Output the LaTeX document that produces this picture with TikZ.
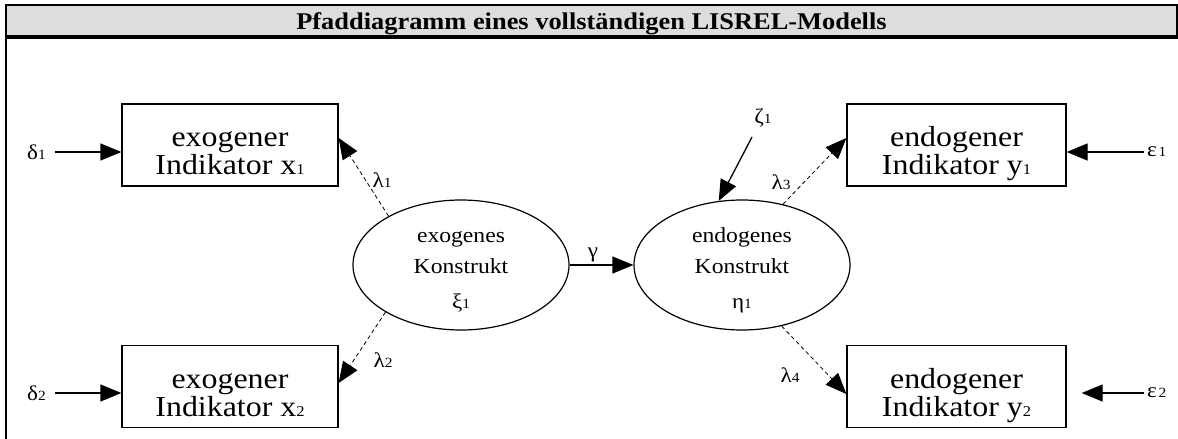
\documentclass[tikz,border=0pt]{standalone}
\usepackage{fontspec}
\setmainfont{Liberation Serif}[FakeStretch=1.1]
\usetikzlibrary{arrows.meta,shapes.geometric}
\definecolor{barfill}{HTML}{DDDDDD}
\newcommand\boxfont{\fontsize{29}{29}\selectfont}
\newcommand\boxsub{\fontsize{15}{15}\selectfont}
\newcommand\elfont{\fontsize{21.5}{21.5}\selectfont}
\newcommand\labfont{\fontsize{21}{21}\selectfont}
\newcommand\labsub{\fontsize{14}{14}\selectfont}
\newcommand\sym[2]{{\labfont #1}{\labsub #2}}
\begin{document}
\begin{tikzpicture}[x=1pt,y=-1pt,
  indbox/.style={draw, line width=1.3pt, minimum width=216pt, minimum height=82pt, inner sep=0pt},
  construct/.style={ellipse, draw, line width=1.2pt, minimum width=216pt, minimum height=130pt, inner sep=0pt},
  boxtxt/.style={anchor=base, inner sep=0pt, font=\boxfont},
  eltxt/.style={anchor=base, inner sep=0pt, font=\elfont},
  lab/.style={inner sep=0pt},
  tip/.style={-{Triangle[length=21pt,width=17pt]}},
  solidarr/.style={tip, line width=1.3pt},
  loadarr/.style={tip, line width=0.8pt, dash pattern=on 4pt off 3pt}]
\useasboundingbox (0,0) rectangle (1178,439);

% heading bar and frame
\filldraw[fill=barfill, line width=2pt] (6,5) rectangle (1177,37);
\draw[line width=3.5pt] (5,37) -- (1178,37);
\draw[line width=2pt] (6,37) -- (6,439);
\node[anchor=base, inner sep=0pt, font=\bfseries\fontsize{24}{24}\selectfont] (title) at (591.5,29)
  {Pfaddiagramm eines vollständigen LISREL-Modells};

% indicator boxes
\node[indbox] (x1) at (230,145) {};
\node[indbox] (x2) at (230,386.5) {};
\node[indbox, minimum width=219pt] (y1) at (956.5,145) {};
\node[indbox, minimum width=219pt] (y2) at (956.5,386.5) {};

\node[boxtxt] (x1a) at (230,146.5) {exogener};
\node[boxtxt] (x1b) at (230,174.5) {Indikator x{\boxsub 1}};
\node[boxtxt] (x2a) at (230,388) {exogener};
\node[boxtxt] (x2b) at (230,416) {Indikator x{\boxsub 2}};
\node[boxtxt] (y1a) at (956.5,146.5) {endogener};
\node[boxtxt] (y1b) at (956.5,174.5) {Indikator y{\boxsub 1}};
\node[boxtxt] (y2a) at (956.5,388) {endogener};
\node[boxtxt] (y2b) at (956.5,416) {Indikator y{\boxsub 2}};

% latent constructs
\node[construct] (xi) at (461,265) {};
\node[construct] (eta) at (742,265) {};
\node[eltxt] (xia) at (461,242) {exogenes};
\node[eltxt] (xib) at (461,273) {Konstrukt};
\node[eltxt] (xic) at (461,308) {\sym{ξ}{1}};
\node[eltxt] (etaa) at (742,242) {endogenes};
\node[eltxt] (etab) at (742,273) {Konstrukt};
\node[eltxt] (etac) at (742,308) {\sym{η}{1}};

% error terms and path labels
\node[lab, anchor=west] (d1) at (27,152) {\sym{δ}{1}};
\node[lab, anchor=west] (d2) at (27,393) {\sym{δ}{2}};
\node[lab, anchor=west] (e1) at (1147,152) {{\labfont ε}\,{\labsub 1}};
\node[lab, anchor=west] (e2) at (1147,393) {{\labfont ε}\,{\labsub 2}};
\node[lab] (z1) at (763,118) {\sym{ζ}{1}};
\node[lab] (l1) at (382,180) {\sym{λ}{1}};
\node[lab] (l2) at (383,360) {\sym{λ}{2}};
\node[lab] (l3) at (781,182) {\sym{λ}{3}};
\node[lab] (l4) at (790,375) {\sym{λ}{4}};
\node[lab] (g) at (593,255) {{\labfont γ}};

% structural and error paths
\draw[solidarr] ([xshift=9pt]d1.east) -- (d1.east -| x1.west);
\draw[solidarr] ([xshift=9pt]d2.east) -- (d2.east -| x2.west);
\draw[solidarr] ([xshift=-3pt]e1.west) -- (e1.west -| y1.east);
\draw[solidarr] ([xshift=-3pt]e2.west) -- ([xshift=15pt]e2.west -| y2.east);
\draw[solidarr] (xi.east) -- (eta.west);
\draw[solidarr] ([shift={(-11pt,-19pt)}]z1.center) -- (eta.110.6);

% measurement paths
\draw[loadarr] (xi.146.7) -- ([yshift=7pt]x1.east);
\draw[loadarr] (xi.212.6) -- ([yshift=3.5pt]x2.east);
\draw[loadarr] (eta.56) -- ([yshift=7pt]y1.west);
\draw[loadarr] (eta.303.7) -- ([yshift=-7.5pt]y2.west);
\end{tikzpicture}
\end{document}
